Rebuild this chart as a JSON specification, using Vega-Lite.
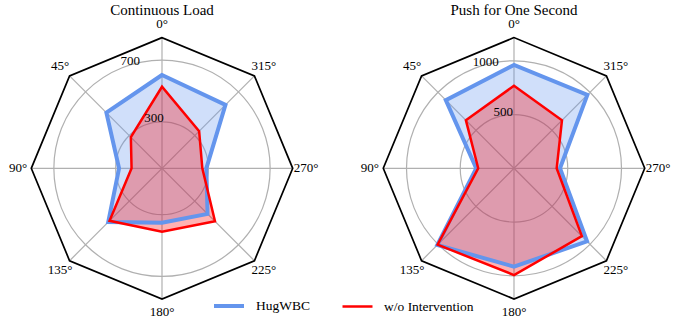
{
  "$schema": "https://vega.github.io/schema/vega-lite/v6.json",
  "padding": 0,
  "autosize": {"type": "pad"},
  "bounds": "flush",
  "spacing": 28,
  "config": {
    "font": "Liberation Serif",
    "view": {"stroke": null},
    "axis": {"disable": true},
    "title": {"fontSize": 15, "fontWeight": "normal", "font": "Liberation Serif", "color": "black"}
  },
  "resolve": {"scale": {"size": "independent", "x": "independent", "y": "independent", "stroke": "independent", "fill": "independent", "strokeWidth": "independent"}, "legend": {"stroke": "independent", "strokeWidth": "independent", "fill": "independent"}},
  "datasets": {
    "radar": [
      {"chart": "Continuous Load", "series": "HugWBC", "angle": 0, "value": 604},
      {"chart": "Continuous Load", "series": "HugWBC", "angle": 45, "value": 509},
      {"chart": "Continuous Load", "series": "HugWBC", "angle": 90, "value": 278},
      {"chart": "Continuous Load", "series": "HugWBC", "angle": 135, "value": 492},
      {"chart": "Continuous Load", "series": "HugWBC", "angle": 180, "value": 352},
      {"chart": "Continuous Load", "series": "HugWBC", "angle": 225, "value": 417},
      {"chart": "Continuous Load", "series": "HugWBC", "angle": 270, "value": 287},
      {"chart": "Continuous Load", "series": "HugWBC", "angle": 315, "value": 581},
      {"chart": "Continuous Load", "series": "w/o Intervention", "angle": 0, "value": 528},
      {"chart": "Continuous Load", "series": "w/o Intervention", "angle": 45, "value": 285},
      {"chart": "Continuous Load", "series": "w/o Intervention", "angle": 90, "value": 197},
      {"chart": "Continuous Load", "series": "w/o Intervention", "angle": 135, "value": 480},
      {"chart": "Continuous Load", "series": "w/o Intervention", "angle": 180, "value": 410},
      {"chart": "Continuous Load", "series": "w/o Intervention", "angle": 225, "value": 485},
      {"chart": "Continuous Load", "series": "w/o Intervention", "angle": 270, "value": 261},
      {"chart": "Continuous Load", "series": "w/o Intervention", "angle": 315, "value": 340},
      {"chart": "Push for One Second", "series": "HugWBC", "angle": 0, "value": 961},
      {"chart": "Push for One Second", "series": "HugWBC", "angle": 45, "value": 897},
      {"chart": "Push for One Second", "series": "HugWBC", "angle": 90, "value": 352},
      {"chart": "Push for One Second", "series": "HugWBC", "angle": 135, "value": 1009},
      {"chart": "Push for One Second", "series": "HugWBC", "angle": 180, "value": 915},
      {"chart": "Push for One Second", "series": "HugWBC", "angle": 225, "value": 961},
      {"chart": "Push for One Second", "series": "HugWBC", "angle": 270, "value": 428},
      {"chart": "Push for One Second", "series": "HugWBC", "angle": 315, "value": 965},
      {"chart": "Push for One Second", "series": "w/o Intervention", "angle": 0, "value": 768},
      {"chart": "Push for One Second", "series": "w/o Intervention", "angle": 45, "value": 633},
      {"chart": "Push for One Second", "series": "w/o Intervention", "angle": 90, "value": 333},
      {"chart": "Push for One Second", "series": "w/o Intervention", "angle": 135, "value": 1005},
      {"chart": "Push for One Second", "series": "w/o Intervention", "angle": 180, "value": 993},
      {"chart": "Push for One Second", "series": "w/o Intervention", "angle": 225, "value": 893},
      {"chart": "Push for One Second", "series": "w/o Intervention", "angle": 270, "value": 397},
      {"chart": "Push for One Second", "series": "w/o Intervention", "angle": 315, "value": 631}
    ],
    "spokes": [
      {"angle": 0, "label": "0°"},
      {"angle": 45, "label": "45°"},
      {"angle": 90, "label": "90°"},
      {"angle": 135, "label": "135°"},
      {"angle": 180, "label": "180°"},
      {"angle": 225, "label": "225°"},
      {"angle": 270, "label": "270°"},
      {"angle": 315, "label": "315°"}
    ],
    "rings": [
      {"chart": "Continuous Load", "ring": 300},
      {"chart": "Continuous Load", "ring": 700},
      {"chart": "Push for One Second", "ring": 500},
      {"chart": "Push for One Second", "ring": 1000}
    ]
  },
  "hconcat": [
    {
      "width": 324,
      "height": 318,
      "title": {"text": "Continuous Load", "offset": -18},
      "layer": [
        {
          "data": {"name": "rings"},
          "transform": [{"filter": "datum.chart == 'Continuous Load'"}],
          "mark": {"type": "point", "shape": "circle", "filled": false, "stroke": "#b0b0b0", "strokeWidth": 1.2, "opacity": 1},
          "encoding": {
            "size": {"field": "ring", "type": "quantitative", "scale": {"type": "pow", "exponent": 2, "domain": [0, 1000], "range": [0, 95480]}, "legend": null},
            "x": {"datum": 0, "type": "quantitative", "scale": {"domain": [-1048.5, 1048.5], "nice": false, "zero": false}, "axis": null},
            "y": {"datum": 0, "type": "quantitative", "scale": {"domain": [-968.9, 1089.3], "nice": false, "zero": false}, "axis": null}
          }
        },
        {
          "data": {"name": "spokes"},
          "transform": [
            {"calculate": "-846*sin(datum.angle*PI/180)", "as": "sx"},
            {"calculate": "846*cos(datum.angle*PI/180)", "as": "sy"}
          ],
          "mark": {"type": "rule", "color": "#b0b0b0", "strokeWidth": 1.2},
          "encoding": {
            "x": {"field": "sx", "type": "quantitative"},
            "y": {"field": "sy", "type": "quantitative"},
            "x2": {"datum": 0},
            "y2": {"datum": 0}
          }
        },
        {
          "data": {"name": "spokes"},
          "transform": [
            {"calculate": "-846*sin(datum.angle*PI/180)", "as": "sx"},
            {"calculate": "846*cos(datum.angle*PI/180)", "as": "sy"}
          ],
          "mark": {"type": "line", "interpolate": "linear-closed", "color": "black", "strokeWidth": 1.7},
          "encoding": {
            "x": {"field": "sx", "type": "quantitative"},
            "y": {"field": "sy", "type": "quantitative"},
            "order": {"field": "angle", "type": "quantitative"}
          }
        },
        {
          "data": {"name": "radar"},
          "transform": [
            {"filter": "datum.chart == 'Continuous Load'"},
            {"calculate": "-datum.value*sin(datum.angle*PI/180)", "as": "px"},
            {"calculate": "datum.value*cos(datum.angle*PI/180)", "as": "py"}
          ],
          "mark": {"type": "line", "interpolate": "linear-closed", "fillOpacity": 0.3, "strokeWidth": 0, "strokeOpacity": 0},
          "encoding": {
            "x": {"field": "px", "type": "quantitative"},
            "y": {"field": "py", "type": "quantitative"},
            "order": {"field": "angle", "type": "quantitative"},
            "fill": {"field": "series", "type": "nominal", "scale": {"domain": ["HugWBC", "w/o Intervention"], "range": ["#6495ED", "#FF0000"]},
              "legend": {"title": null, "orient": "none", "legendX": 212, "legendY": 289, "direction": "horizontal", "symbolType": "stroke", "symbolSize": 900, "labelFontSize": 13.5, "labelOffset": 10, "columnPadding": 27, "padding": 0, "labelColor": "black", "labelFont": "Liberation Serif"}}
          }
        },
        {
          "data": {"name": "radar"},
          "transform": [
            {"filter": "datum.chart == 'Continuous Load'"},
            {"calculate": "-datum.value*sin(datum.angle*PI/180)", "as": "px"},
            {"calculate": "datum.value*cos(datum.angle*PI/180)", "as": "py"}
          ],
          "mark": {"type": "line", "interpolate": "linear-closed", "strokeJoin": "miter"},
          "encoding": {
            "x": {"field": "px", "type": "quantitative"},
            "y": {"field": "py", "type": "quantitative"},
            "order": {"field": "angle", "type": "quantitative"},
            "stroke": {"field": "series", "type": "nominal", "scale": {"domain": ["HugWBC", "w/o Intervention"], "range": ["#6495ED", "#FF0000"]},
              "legend": {"title": null, "orient": "none", "legendX": 212, "legendY": 289, "direction": "horizontal", "symbolType": "stroke", "symbolSize": 900, "labelFontSize": 13.5, "labelOffset": 10, "columnPadding": 27, "padding": 0, "labelColor": "black", "labelFont": "Liberation Serif"}},
            "strokeWidth": {"field": "series", "type": "nominal", "scale": {"type": "ordinal", "domain": ["HugWBC", "w/o Intervention"], "range": [4, 2.5]},
              "legend": {"title": null, "orient": "none", "legendX": 212, "legendY": 289, "direction": "horizontal", "symbolType": "stroke", "symbolSize": 900, "labelFontSize": 13.5, "labelOffset": 10, "columnPadding": 27, "padding": 0, "labelColor": "black", "labelFont": "Liberation Serif"}}
          }
        },
        {
          "data": {"name": "spokes"},
          "transform": [
            {"calculate": "-932*sin(datum.angle*PI/180)", "as": "lx"},
            {"calculate": "932*cos(datum.angle*PI/180)", "as": "ly"}
          ],
          "mark": {"type": "text", "align": "center", "baseline": "middle", "fontSize": 13, "color": "black"},
          "encoding": {
            "x": {"field": "lx", "type": "quantitative"},
            "y": {"field": "ly", "type": "quantitative"},
            "text": {"field": "label", "type": "nominal"}
          }
        },
        {
          "data": {"name": "rings"},
          "transform": [
            {"filter": "datum.chart == 'Continuous Load'"},
            {"calculate": "-datum.ring*sin(22.5*PI/180)", "as": "tx"},
            {"calculate": "datum.ring*cos(22.5*PI/180)", "as": "ty"}
          ],
          "mark": {"type": "text", "align": "left", "baseline": "bottom", "fontSize": 13, "color": "black"},
          "encoding": {
            "x": {"field": "tx", "type": "quantitative"},
            "y": {"field": "ty", "type": "quantitative"},
            "text": {"field": "ring", "type": "quantitative"}
          }
        }
      ]
    },
    {
      "width": 324,
      "height": 318,
      "title": {"text": "Push for One Second", "offset": -18},
      "layer": [
        {
          "data": {"name": "rings"},
          "transform": [{"filter": "datum.chart == 'Push for One Second'"}],
          "mark": {"type": "point", "shape": "circle", "filled": false, "stroke": "#b0b0b0", "strokeWidth": 1.2, "opacity": 1},
          "encoding": {
            "size": {"field": "ring", "type": "quantitative", "scale": {"type": "pow", "exponent": 2, "domain": [0, 1000], "range": [0, 46225]}, "legend": null},
            "x": {"datum": 0, "type": "quantitative", "scale": {"domain": [-1507, 1507], "nice": false, "zero": false}, "axis": null},
            "y": {"datum": 0, "type": "quantitative", "scale": {"domain": [-1392.6, 1565.6], "nice": false, "zero": false}, "axis": null}
          }
        },
        {
          "data": {"name": "spokes"},
          "transform": [
            {"calculate": "-1216*sin(datum.angle*PI/180)", "as": "sx"},
            {"calculate": "1216*cos(datum.angle*PI/180)", "as": "sy"}
          ],
          "mark": {"type": "rule", "color": "#b0b0b0", "strokeWidth": 1.2},
          "encoding": {
            "x": {"field": "sx", "type": "quantitative"},
            "y": {"field": "sy", "type": "quantitative"},
            "x2": {"datum": 0},
            "y2": {"datum": 0}
          }
        },
        {
          "data": {"name": "spokes"},
          "transform": [
            {"calculate": "-1216*sin(datum.angle*PI/180)", "as": "sx"},
            {"calculate": "1216*cos(datum.angle*PI/180)", "as": "sy"}
          ],
          "mark": {"type": "line", "interpolate": "linear-closed", "color": "black", "strokeWidth": 1.7},
          "encoding": {
            "x": {"field": "sx", "type": "quantitative"},
            "y": {"field": "sy", "type": "quantitative"},
            "order": {"field": "angle", "type": "quantitative"}
          }
        },
        {
          "data": {"name": "radar"},
          "transform": [
            {"filter": "datum.chart == 'Push for One Second'"},
            {"calculate": "-datum.value*sin(datum.angle*PI/180)", "as": "px"},
            {"calculate": "datum.value*cos(datum.angle*PI/180)", "as": "py"}
          ],
          "mark": {"type": "line", "interpolate": "linear-closed", "fillOpacity": 0.3, "strokeWidth": 0, "strokeOpacity": 0},
          "encoding": {
            "x": {"field": "px", "type": "quantitative"},
            "y": {"field": "py", "type": "quantitative"},
            "order": {"field": "angle", "type": "quantitative"},
            "fill": {"field": "series", "type": "nominal", "scale": {"domain": ["HugWBC", "w/o Intervention"], "range": ["#6495ED", "#FF0000"]}, "legend": null}
          }
        },
        {
          "data": {"name": "radar"},
          "transform": [
            {"filter": "datum.chart == 'Push for One Second'"},
            {"calculate": "-datum.value*sin(datum.angle*PI/180)", "as": "px"},
            {"calculate": "datum.value*cos(datum.angle*PI/180)", "as": "py"}
          ],
          "mark": {"type": "line", "interpolate": "linear-closed", "strokeJoin": "miter"},
          "encoding": {
            "x": {"field": "px", "type": "quantitative"},
            "y": {"field": "py", "type": "quantitative"},
            "order": {"field": "angle", "type": "quantitative"},
            "stroke": {"field": "series", "type": "nominal", "scale": {"domain": ["HugWBC", "w/o Intervention"], "range": ["#6495ED", "#FF0000"]}, "legend": null},
            "strokeWidth": {"field": "series", "type": "nominal", "scale": {"type": "ordinal", "domain": ["HugWBC", "w/o Intervention"], "range": [4, 2.5]}, "legend": null}
          }
        },
        {
          "data": {"name": "spokes"},
          "transform": [
            {"calculate": "-1340*sin(datum.angle*PI/180)", "as": "lx"},
            {"calculate": "1340*cos(datum.angle*PI/180)", "as": "ly"}
          ],
          "mark": {"type": "text", "align": "center", "baseline": "middle", "fontSize": 13, "color": "black"},
          "encoding": {
            "x": {"field": "lx", "type": "quantitative"},
            "y": {"field": "ly", "type": "quantitative"},
            "text": {"field": "label", "type": "nominal"}
          }
        },
        {
          "data": {"name": "rings"},
          "transform": [
            {"filter": "datum.chart == 'Push for One Second'"},
            {"calculate": "-datum.ring*sin(22.5*PI/180)", "as": "tx"},
            {"calculate": "datum.ring*cos(22.5*PI/180)", "as": "ty"}
          ],
          "mark": {"type": "text", "align": "left", "baseline": "bottom", "fontSize": 13, "color": "black"},
          "encoding": {
            "x": {"field": "tx", "type": "quantitative"},
            "y": {"field": "ty", "type": "quantitative"},
            "text": {"field": "ring", "type": "quantitative"}
          }
        }
      ]
    }
  ]
}
